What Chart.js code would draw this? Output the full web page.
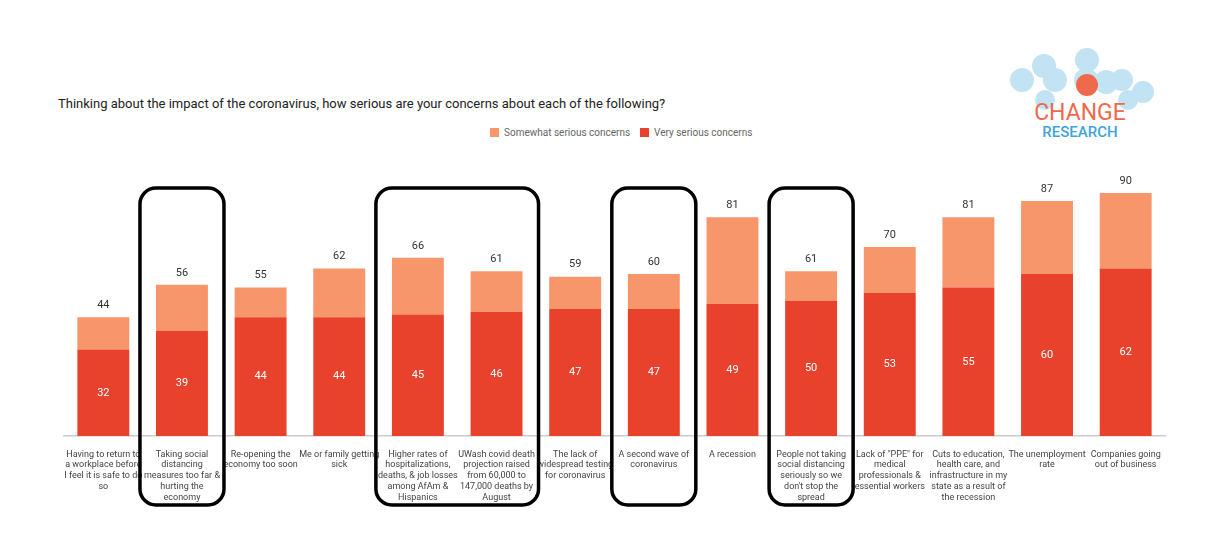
<!DOCTYPE html>
<html><head><meta charset="utf-8">
<script src="https://cdn.jsdelivr.net/npm/chart.js@4"></script>
<style>
body{margin:0;background:#fff;font-family:Roboto,"Noto Sans",sans-serif;}
#wrap{position:relative;width:1228px;height:550px;}
#title{position:absolute;left:58px;top:96px;font-size:13px;color:#222;}
#legend{position:absolute;left:490px;top:127px;font-size:10px;color:#666;}
#legend span.sw{display:inline-block;width:9px;height:9px;vertical-align:-1px;margin-right:5px;}
#logo{position:absolute;left:1000px;top:40px;width:160px;height:110px;}
canvas#c{position:absolute;left:0;top:0;}
</style></head><body>
<div id="wrap">
<div id="title">Thinking about the impact of the coronavirus, how serious are your concerns about each of the following?</div>
<div id="legend"><span class="sw" style="background:#f7956b"></span>Somewhat serious concerns&nbsp;&nbsp;&nbsp;&nbsp;<span class="sw" style="background:#e8412c"></span>Very serious concerns</div>
<svg id="logo" viewBox="0 0 160 110">
  <g fill="#a9d8ee" opacity="0.7">
    <circle cx="22" cy="40" r="12"/><circle cx="44" cy="26" r="12"/><circle cx="55" cy="40" r="12"/>
    <circle cx="87" cy="20" r="12"/><circle cx="86" cy="40" r="12"/><circle cx="106" cy="42" r="12"/>
    <circle cx="122" cy="40" r="11"/><circle cx="143" cy="52" r="11"/><circle cx="45" cy="60" r="10"/>
    <circle cx="128" cy="60" r="10"/>
  </g>
  <circle cx="87" cy="45" r="11" fill="#ef6a4c"/>
  <text x="80" y="80" text-anchor="middle" font-family="Roboto,sans-serif" font-size="23" fill="#ef6a4c">CHANGE</text>
  <text x="80" y="97" text-anchor="middle" font-family="Roboto,sans-serif" font-size="15" font-weight="500" fill="#3fa4dc">RESEARCH</text>
</svg>
<canvas id="c" width="1228" height="550"></canvas>
</div>
<script>
const categories = [
  ['Having to return to','a workplace before','I feel it is safe to do','so'],
  ['Taking social','distancing','measures too far &','hurting the','economy'],
  ['Re-opening the','economy too soon'],
  ['Me or family getting','sick'],
  ['Higher rates of','hospitalizations,','deaths, & job losses','among AfAm &','Hispanics'],
  ['UWash covid death','projection raised','from 60,000 to','147,000 deaths by','August'],
  ['The lack of','widespread testing','for coronavirus'],
  ['A second wave of','coronavirus'],
  ['A recession'],
  ['People not taking','social distancing','seriously so we','don\'t stop the','spread'],
  ['Lack of "PPE" for','medical','professionals &','essential workers'],
  ['Cuts to education,','health care, and','infrastructure in my','state as a result of','the recession'],
  ['The unemployment','rate'],
  ['Companies going','out of business']
];
const verySerious = [32, 39, 44, 44, 45, 46, 47, 47, 49, 50, 53, 55, 60, 62];
const totals      = [44, 56, 55, 62, 66, 61, 59, 60, 81, 61, 70, 81, 87, 90];
const somewhatSerious = totals.map((t, i) => t - verySerious[i]);
const boxedGroups = [[1, 1], [4, 5], [7, 7], [9, 9]];

const labelPlugin = {
  id: 'labels',
  afterDatasetsDraw(chart) {
    const ctx = chart.ctx;
    const x = chart.scales.x, y = chart.scales.y;
    ctx.save();
    ctx.textAlign = 'center';
    ctx.textBaseline = 'middle';
    ctx.font = '11px Roboto, sans-serif';
    verySerious.forEach((v, i) => {
      ctx.fillStyle = '#fff';
      ctx.fillText(v, x.getPixelForValue(i), y.getPixelForValue(v / 2));
      ctx.fillStyle = '#333';
      ctx.fillText(totals[i], x.getPixelForValue(i), y.getPixelForValue(totals[i]) - 12);
    });
    // highlight boxes
    ctx.strokeStyle = '#000';
    ctx.lineWidth = 3.5;
    boxedGroups.forEach(([a, b]) => {
      const l = x.getPixelForValue(a) - 42, r = x.getPixelForValue(b) + 42;
      const t = 188, btm = 505, rad = 16;
      ctx.beginPath();
      ctx.roundRect(l, t, r - l, btm - t, rad);
      ctx.stroke();
    });
    ctx.restore();
  }
};

new Chart(document.getElementById('c'), {
  type: 'bar',
  data: {
    labels: categories,
    datasets: [
      { label: 'Very serious concerns', data: verySerious, backgroundColor: '#e8412c', barPercentage: 0.66, categoryPercentage: 1 },
      { label: 'Somewhat serious concerns', data: somewhatSerious, backgroundColor: '#f7956b', barPercentage: 0.66, categoryPercentage: 1 }
    ]
  },
  options: {
    responsive: false,
    animation: false,
    layout: { padding: { top: 166, left: 64, right: 63, bottom: 42 } },
    plugins: { legend: { display: false }, tooltip: { enabled: false } },
    scales: {
      x: {
        stacked: true,
        grid: { display: false },
        border: { color: '#ccc', width: 1.5 },
        ticks: { maxRotation: 0, autoSkip: false, color: '#444', font: { size: 9, family: 'Roboto', lineHeight: 1.2 }, padding: 5 }
      },
      y: { stacked: true, display: false, min: 0, max: 100 }
    }
  },
  plugins: [labelPlugin]
});
</script>
</body></html>
